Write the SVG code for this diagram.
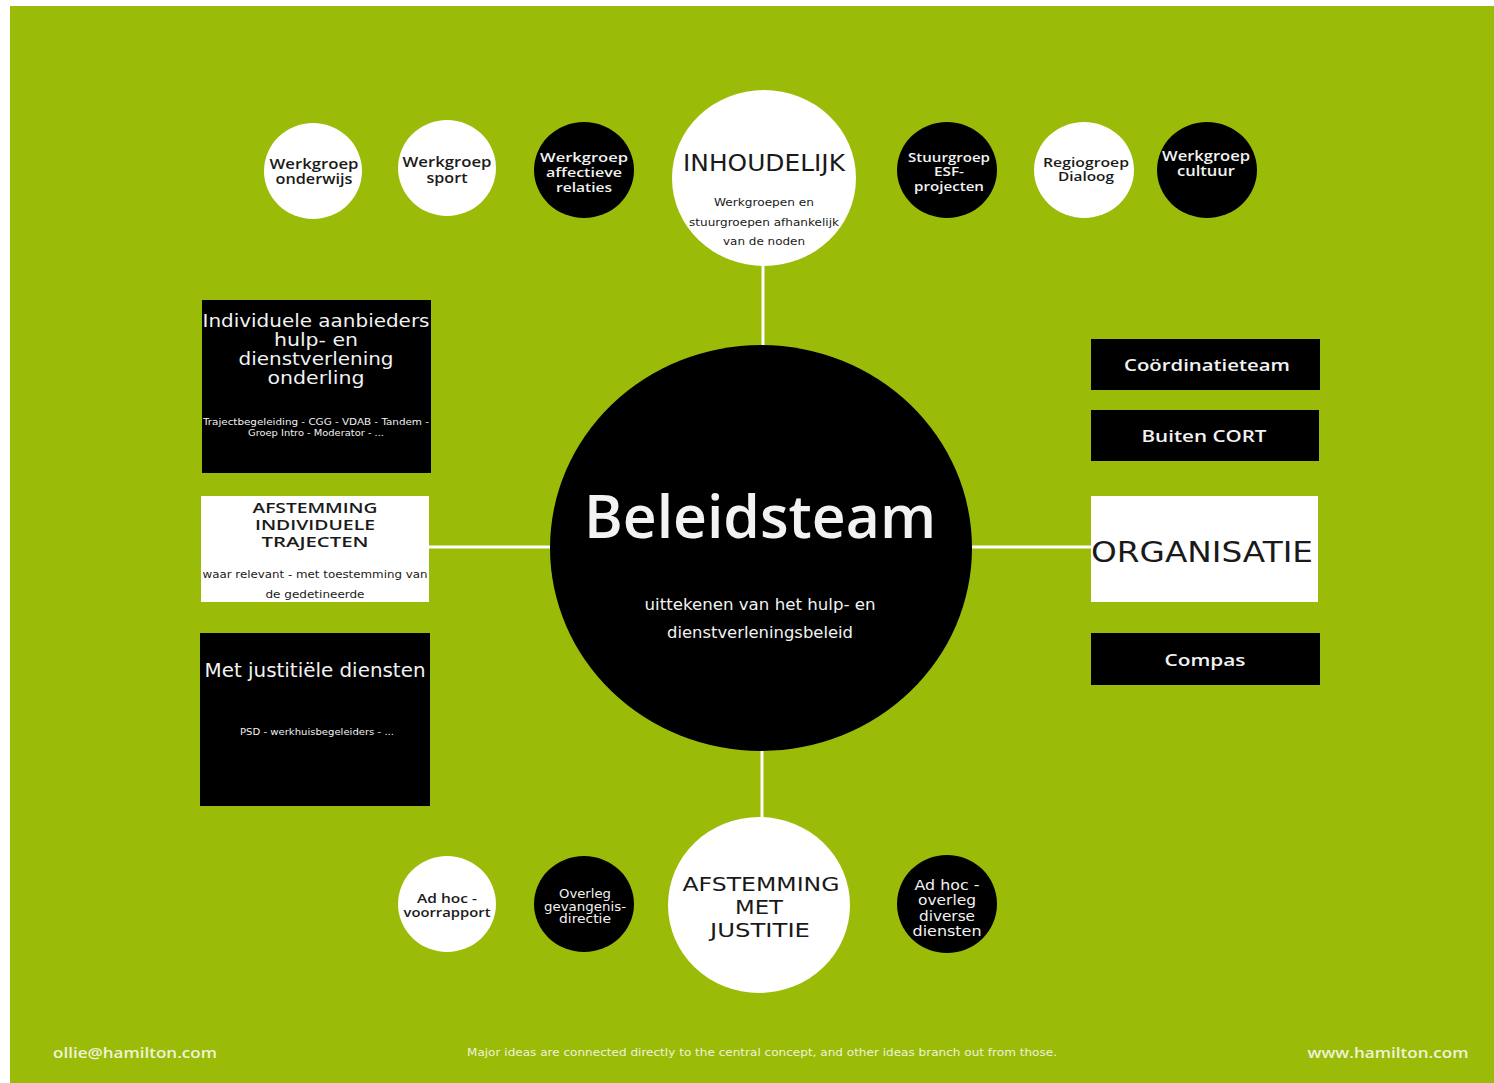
<svg xmlns="http://www.w3.org/2000/svg" width="1494" height="1083" viewBox="0 0 1494 1083">
<style>
text{font-family:"DejaVu Sans","Liberation Sans",sans-serif;text-anchor:middle;dominant-baseline:central}
.w{fill:#ffffff}
.b{fill:#000000}
.tw{fill:#f2f2f2}
.tb{fill:#1a1a1a}
.sm{font-family:"Open Sans","DejaVu Sans",sans-serif;font-weight:600}
.con{stroke:#ffffff;stroke-width:3;fill:none}
.ft{fill:#eef3d8}
</style>
<rect x="0" y="0" width="1494" height="1083" fill="#ffffff"/>
<rect x="10" y="6" width="1484" height="1077" fill="#9bbb09"/>

<g id="connectors">
<line class="con" x1="763" y1="262" x2="763" y2="348"/>
<line class="con" x1="762" y1="748" x2="762" y2="820"/>
<line class="con" x1="428" y1="547" x2="553" y2="547"/>
<line class="con" x1="970" y1="547" x2="1092" y2="547"/>
</g>

<g id="beleidsteam">
<ellipse class="b" cx="761" cy="548" rx="211" ry="203"/>
<text class="tw sm" x="760" y="515" font-size="60" textLength="352" lengthAdjust="spacingAndGlyphs">Beleidsteam</text>
<text class="tw" x="760" y="605" font-size="15" textLength="231" lengthAdjust="spacingAndGlyphs">uittekenen van het hulp- en</text>
<text class="tw" x="760" y="633" font-size="15" textLength="186" lengthAdjust="spacingAndGlyphs">dienstverleningsbeleid</text>
</g>

<g id="inhoudelijk">
<ellipse class="w" cx="764" cy="178" rx="92" ry="88"/>
<text class="tb" x="764" y="163" font-size="23" textLength="162" lengthAdjust="spacingAndGlyphs">INHOUDELIJK</text>
<text class="tb" x="764" y="202" font-size="11" textLength="100" lengthAdjust="spacingAndGlyphs">Werkgroepen en</text>
<text class="tb" x="764" y="222" font-size="11" textLength="150" lengthAdjust="spacingAndGlyphs">stuurgroepen afhankelijk</text>
<text class="tb" x="764" y="241" font-size="11" textLength="82" lengthAdjust="spacingAndGlyphs">van de noden</text>
</g>

<g id="werkgroep-onderwijs">
<ellipse class="w" cx="313" cy="171" rx="49" ry="48"/>
<text class="tb sm" x="314" y="164" font-size="13.5" textLength="89" lengthAdjust="spacingAndGlyphs">Werkgroep</text>
<text class="tb sm" x="314" y="179" font-size="13.5" textLength="77" lengthAdjust="spacingAndGlyphs">onderwijs</text>
</g>

<g id="werkgroep-sport">
<ellipse class="w" cx="447" cy="168" rx="49" ry="48"/>
<text class="tb sm" x="447" y="162" font-size="13.5" textLength="89" lengthAdjust="spacingAndGlyphs">Werkgroep</text>
<text class="tb sm" x="447" y="178" font-size="13.5" textLength="41" lengthAdjust="spacingAndGlyphs">sport</text>
</g>

<g id="werkgroep-affectieve-relaties">
<ellipse class="b" cx="584" cy="170" rx="50" ry="48"/>
<text class="tw sm" x="584" y="157" font-size="13" textLength="88" lengthAdjust="spacingAndGlyphs">Werkgroep</text>
<text class="tw sm" x="584" y="172" font-size="13" textLength="76" lengthAdjust="spacingAndGlyphs">affectieve</text>
<text class="tw sm" x="584" y="187" font-size="13" textLength="56" lengthAdjust="spacingAndGlyphs">relaties</text>
</g>

<g id="stuurgroep-esf">
<ellipse class="b" cx="947" cy="170" rx="50" ry="48"/>
<text class="tw sm" x="949" y="157" font-size="12.5" textLength="82" lengthAdjust="spacingAndGlyphs">Stuurgroep</text>
<text class="tw sm" x="949" y="171" font-size="12.5" textLength="30" lengthAdjust="spacingAndGlyphs">ESF-</text>
<text class="tw sm" x="949" y="186" font-size="12.5" textLength="70" lengthAdjust="spacingAndGlyphs">projecten</text>
</g>

<g id="regiogroep-dialoog">
<ellipse class="w" cx="1084" cy="170" rx="50" ry="48"/>
<text class="tb sm" x="1086" y="162" font-size="13" textLength="86" lengthAdjust="spacingAndGlyphs">Regiogroep</text>
<text class="tb sm" x="1086" y="176" font-size="13" textLength="56" lengthAdjust="spacingAndGlyphs">Dialoog</text>
</g>

<g id="werkgroep-cultuur">
<ellipse class="b" cx="1207" cy="170" rx="50" ry="48"/>
<text class="tw sm" x="1206" y="156" font-size="13.5" textLength="88" lengthAdjust="spacingAndGlyphs">Werkgroep</text>
<text class="tw sm" x="1206" y="171" font-size="13.5" textLength="58" lengthAdjust="spacingAndGlyphs">cultuur</text>
</g>

<g id="individuele-aanbieders">
<rect class="b" x="202" y="300" width="229" height="173"/>
<text class="tw" x="316" y="320" font-size="18" textLength="227" lengthAdjust="spacingAndGlyphs">Individuele aanbieders</text>
<text class="tw" x="316" y="339" font-size="18" textLength="84" lengthAdjust="spacingAndGlyphs">hulp- en</text>
<text class="tw" x="316" y="358" font-size="18" textLength="155" lengthAdjust="spacingAndGlyphs">dienstverlening</text>
<text class="tw" x="316" y="377" font-size="18" textLength="97" lengthAdjust="spacingAndGlyphs">onderling</text>
<text class="tw" x="316" y="421" font-size="9.5" textLength="226" lengthAdjust="spacingAndGlyphs">Trajectbegeleiding - CGG - VDAB - Tandem -</text>
<text class="tw" x="316" y="432" font-size="9.5" textLength="136" lengthAdjust="spacingAndGlyphs">Groep Intro - Moderator - ...</text>
</g>

<g id="afstemming-individuele-trajecten">
<rect class="w" x="201" y="496" width="228" height="106"/>
<text class="tb sm" x="315" y="507" font-size="15" textLength="125" lengthAdjust="spacingAndGlyphs">AFSTEMMING</text>
<text class="tb sm" x="315" y="524" font-size="15" textLength="120" lengthAdjust="spacingAndGlyphs">INDIVIDUELE</text>
<text class="tb sm" x="315" y="541" font-size="15" textLength="107" lengthAdjust="spacingAndGlyphs">TRAJECTEN</text>
<text class="tb" x="315" y="574" font-size="11" textLength="225" lengthAdjust="spacingAndGlyphs">waar relevant - met toestemming van</text>
<text class="tb" x="315" y="594" font-size="11" textLength="99" lengthAdjust="spacingAndGlyphs">de gedetineerde</text>
</g>

<g id="met-justitiele-diensten">
<rect class="b" x="200" y="633" width="230" height="173"/>
<text class="tw" x="315" y="670" font-size="19" textLength="221" lengthAdjust="spacingAndGlyphs">Met justitiële diensten</text>
<text class="tw" x="317" y="731" font-size="9.5" textLength="154" lengthAdjust="spacingAndGlyphs">PSD - werkhuisbegeleiders - ...</text>
</g>

<g id="coordinatieteam">
<rect class="b" x="1091" y="339" width="229" height="51"/>
<text class="tw sm" x="1207" y="364" font-size="17" textLength="166" lengthAdjust="spacingAndGlyphs">Coördinatieteam</text>
</g>

<g id="buiten-cort">
<rect class="b" x="1091" y="410" width="228" height="51"/>
<text class="tw sm" x="1204" y="435" font-size="17" textLength="125" lengthAdjust="spacingAndGlyphs">Buiten CORT</text>
</g>

<g id="organisatie">
<rect class="w" x="1091" y="496" width="227" height="106"/>
<text class="tb" x="1202" y="552" font-size="28" textLength="222" lengthAdjust="spacingAndGlyphs">ORGANISATIE</text>
</g>

<g id="compas">
<rect class="b" x="1091" y="633" width="229" height="52"/>
<text class="tw sm" x="1205" y="659" font-size="17" textLength="81" lengthAdjust="spacingAndGlyphs">Compas</text>
</g>

<g id="afstemming-met-justitie">
<ellipse class="w" cx="759" cy="905" rx="91" ry="88"/>
<text class="tb" x="761" y="884" font-size="20" textLength="157" lengthAdjust="spacingAndGlyphs">AFSTEMMING</text>
<text class="tb" x="759" y="907" font-size="20" textLength="48" lengthAdjust="spacingAndGlyphs">MET</text>
<text class="tb" x="760" y="930" font-size="20" textLength="100" lengthAdjust="spacingAndGlyphs">JUSTITIE</text>
</g>

<g id="ad-hoc-voorrapport">
<ellipse class="w" cx="447" cy="904" rx="49" ry="48"/>
<text class="tb sm" x="447" y="898" font-size="12.5" textLength="60" lengthAdjust="spacingAndGlyphs">Ad hoc -</text>
<text class="tb sm" x="447" y="912" font-size="12.5" textLength="87" lengthAdjust="spacingAndGlyphs">voorrapport</text>
</g>

<g id="overleg-gevangenisdirectie">
<ellipse class="b" cx="584" cy="904" rx="50" ry="48"/>
<text class="tw" x="585" y="894" font-size="11.5" textLength="52" lengthAdjust="spacingAndGlyphs">Overleg</text>
<text class="tw" x="585" y="907" font-size="11.5" textLength="82" lengthAdjust="spacingAndGlyphs">gevangenis-</text>
<text class="tw" x="585" y="919" font-size="11.5" textLength="52" lengthAdjust="spacingAndGlyphs">directie</text>
</g>

<g id="ad-hoc-overleg-diverse-diensten">
<ellipse class="b" cx="947" cy="904" rx="50" ry="49"/>
<text class="tw" x="947" y="885" font-size="13.5" textLength="65" lengthAdjust="spacingAndGlyphs">Ad hoc -</text>
<text class="tw" x="947" y="900" font-size="13.5" textLength="58" lengthAdjust="spacingAndGlyphs">overleg</text>
<text class="tw" x="947" y="916" font-size="13.5" textLength="56" lengthAdjust="spacingAndGlyphs">diverse</text>
<text class="tw" x="947" y="931" font-size="13.5" textLength="69" lengthAdjust="spacingAndGlyphs">diensten</text>
</g>

<g id="footer">
<text class="ft sm" x="135" y="1052" font-size="14" textLength="164" lengthAdjust="spacingAndGlyphs">ollie@hamilton.com</text>
<text class="ft" x="762" y="1052" font-size="10" textLength="590" lengthAdjust="spacingAndGlyphs">Major ideas are connected directly to the central concept, and other ideas branch out from those.</text>
<text class="ft sm" x="1388" y="1052" font-size="14" textLength="161" lengthAdjust="spacingAndGlyphs">www.hamilton.com</text>
</g>
</svg>
